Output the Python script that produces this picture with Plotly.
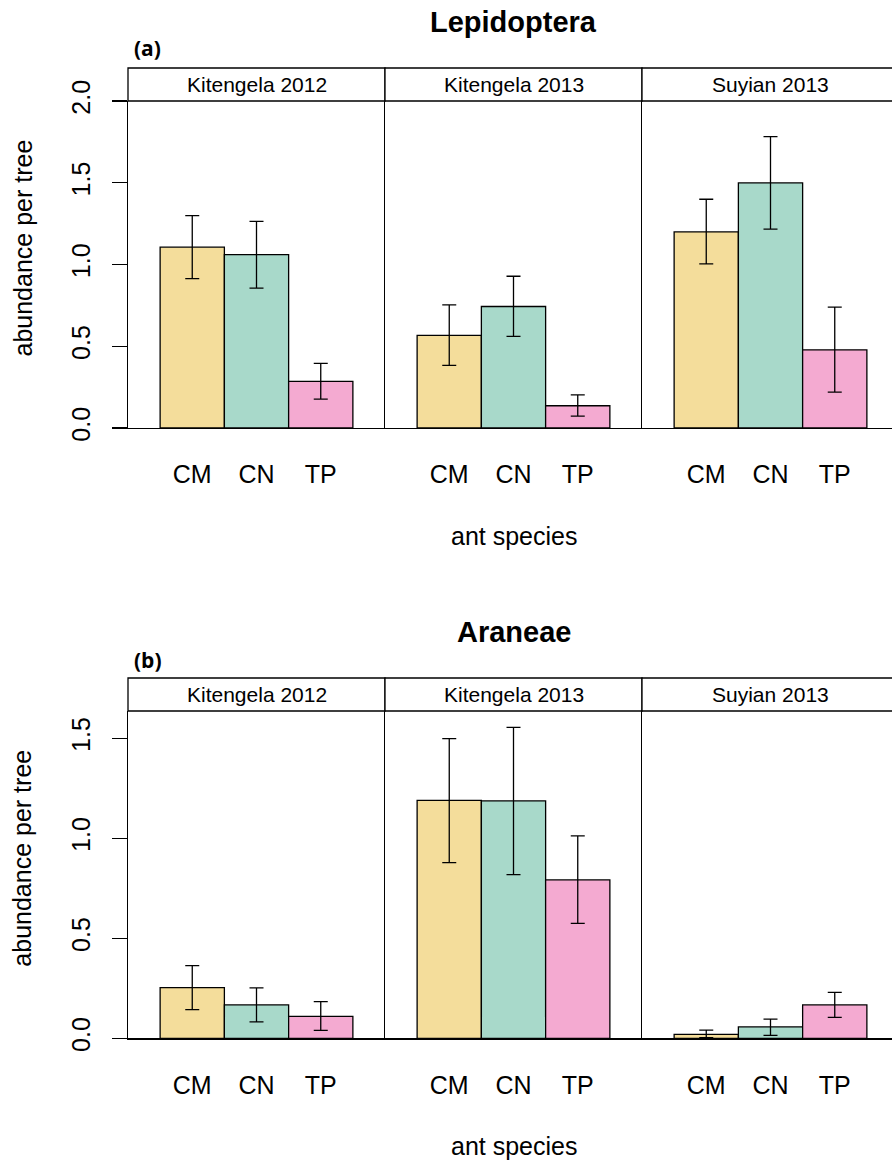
import plotly.graph_objects as go

# data
sites = ["Kitengela 2012", "Kitengela 2013", "Suyian 2013"]
species = ["CM", "CN", "TP"]
species_colors = ["#F4DD9B", "#A8D9CA", "#F4AAD1"]

lep_mean = [[1.106, 1.061, 0.285], [0.566, 0.743, 0.136], [1.199, 1.499, 0.478]]
lep_lo = [[0.914, 0.855, 0.177], [0.383, 0.560, 0.073], [1.004, 1.216, 0.220]]
lep_hi = [[1.299, 1.264, 0.395], [0.753, 0.928, 0.202], [1.399, 1.782, 0.739]]

ara_mean = [[0.253, 0.167, 0.110], [1.190, 1.187, 0.792], [0.020, 0.057, 0.167]]
ara_lo = [[0.143, 0.082, 0.040], [0.878, 0.818, 0.575], [0.003, 0.015, 0.105]]
ara_hi = [[0.363, 0.252, 0.183], [1.498, 1.555, 1.012], [0.041, 0.096, 0.230]]

lep_ticks = [0.0, 0.5, 1.0, 1.5, 2.0]
ara_ticks = [0.0, 0.5, 1.0, 1.5]

W, H = 892, 1160
FONT = "Liberation Sans, Arial, Helvetica, sans-serif"


def fx(px):
    return px / W


def fy(py):
    return 1 - py / H


panels = [
    dict(title="Lepidoptera", tag="(a)", mean=lep_mean, lo=lep_lo, hi=lep_hi,
         ticks=lep_ticks, ymax=2.0, title_y=22, tag_y=48, strip_top=68,
         plot_top=101, plot_bot=428, xlab_y=536),
    dict(title="Araneae", tag="(b)", mean=ara_mean, lo=ara_lo, hi=ara_hi,
         ticks=ara_ticks, ymax=1.6365, title_y=632, tag_y=660, strip_top=678,
         plot_top=711, plot_bot=1038.3, xlab_y=1146),
]

facet_left = [128, 385, 642]
facet_w = 257

fig = go.Figure()
layout = {}
shapes = []
annotations = []

n = 0
for p in panels:
    for c, site in enumerate(sites):
        n += 1
        sfx = "" if n == 1 else str(n)
        left = facet_left[c]
        right = min(left + facet_w, W)
        means = p["mean"][c]
        up = [h - m for h, m in zip(p["hi"][c], means)]
        down = [m - l for m, l in zip(means, p["lo"][c])]

        fig.add_trace(
            go.Bar(
                x=[1, 2, 3],
                y=means,
                width=1,
                marker=dict(color=species_colors, line=dict(color="black", width=1.3)),
                error_y=dict(type="data", symmetric=False, array=up, arrayminus=down,
                             color="black", thickness=1.3, width=7),
                xaxis="x" + sfx,
                yaxis="y" + sfx,
                showlegend=False,
                hoverinfo="skip",
            )
        )

        layout["xaxis" + sfx] = dict(
            domain=[fx(left), fx(right)],
            range=[0, 4 * (right - left) / facet_w],
            anchor="y" + sfx,
            automargin=False,
            tickvals=[1, 2, 3],
            ticktext=species,
            ticks="",
            ticklabelstandoff=24,
            tickfont=dict(family=FONT, size=25, color="black"),
            showline=True, linecolor="black", linewidth=1.3,
            showgrid=False, zeroline=False, fixedrange=True,
        )
        yax = dict(
            domain=[fy(p["plot_bot"]), fy(p["plot_top"])],
            range=[0, p["ymax"]],
            anchor="x" + sfx,
            automargin=False,
            showline=True, linecolor="black", linewidth=1.3,
            showgrid=False, zeroline=False, fixedrange=True,
        )
        if c == 0:
            yax.update(
                tickvals=p["ticks"], tickformat=".1f", ticks="outside",
                ticklen=15, tickwidth=1.3, tickcolor="black", tickangle=-90,
                ticklabelstandoff=12,
                tickfont=dict(family=FONT, size=25, color="black"),
            )
        else:
            yax.update(showticklabels=False, ticks="")
        layout["yaxis" + sfx] = yax

        # strip box and label
        shapes.append(dict(
            type="rect", xref="paper", yref="paper",
            x0=fx(left), x1=fx(left + facet_w),
            y0=fy(p["plot_top"]), y1=fy(p["strip_top"]),
            line=dict(color="black", width=1.3), fillcolor="white", layer="below",
        ))
        annotations.append(dict(
            text=site, xref="paper", yref="paper",
            x=fx(left + facet_w / 2), y=fy((p["strip_top"] + p["plot_top"]) / 2),
            xanchor="center", yanchor="middle", showarrow=False,
            font=dict(family=FONT, size=21, color="black"),
        ))

    annotations += [
        dict(text="<b>%s</b>" % p["title"], xref="paper", yref="paper",
             x=fx(513.5), y=fy(p["title_y"]), xanchor="center", yanchor="middle",
             showarrow=False, font=dict(family=FONT, size=29, color="black")),
        dict(text="<b>%s</b>" % p["tag"], xref="paper", yref="paper",
             x=fx(132), y=fy(p["tag_y"]), xanchor="left", yanchor="middle",
             showarrow=False, font=dict(family="Open Sans, sans-serif", size=21, color="black")),
        dict(text="abundance per tree", xref="paper", yref="paper",
             x=fx(22.5), y=fy((p["strip_top"] + p["plot_bot"]) / 2), textangle=-90,
             xanchor="center", yanchor="middle", showarrow=False,
             font=dict(family=FONT, size=25, color="black")),
        dict(text="ant species", xref="paper", yref="paper",
             x=fx(513.5), y=fy(p["xlab_y"]), xanchor="center", yanchor="middle",
             showarrow=False, font=dict(family=FONT, size=25, color="black")),
    ]

fig.update_layout(
    **layout,
    shapes=shapes,
    annotations=annotations,
    width=W,
    height=H,
    margin=dict(l=0, r=0, t=0, b=0, autoexpand=False),
    paper_bgcolor="white",
    plot_bgcolor="white",
    bargap=0,
    showlegend=False,
)

fig.write_html(
    "out.html",
    config={"displayModeBar": False, "staticPlot": True},
    post_script="document.body.style.margin = '0';",
)
